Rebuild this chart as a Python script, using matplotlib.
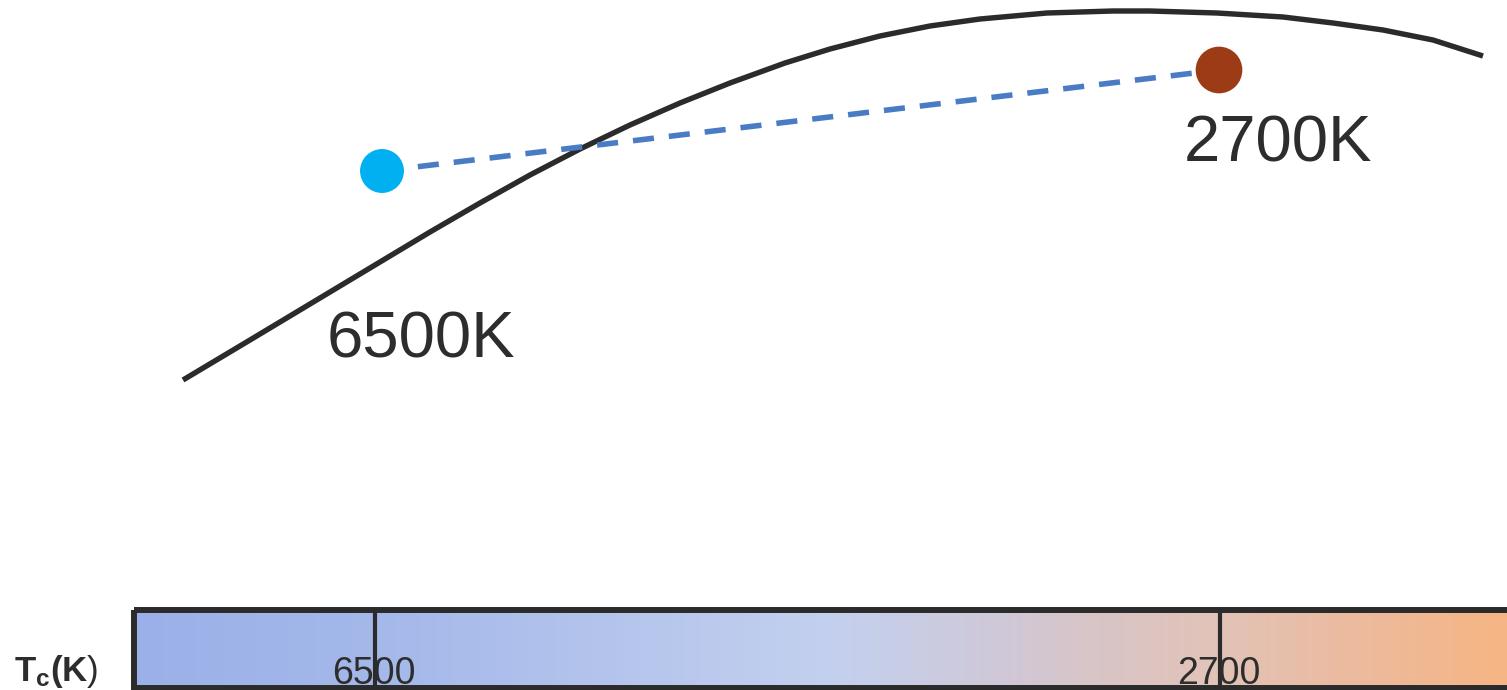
import numpy as np
import matplotlib
matplotlib.use('Agg')
import matplotlib.pyplot as plt
from matplotlib.colors import LinearSegmentedColormap
from matplotlib.patches import Rectangle

plt.rcParams['font.family'] = ['Liberation Sans', 'DejaVu Sans']
plt.rcParams['mathtext.fontset'] = 'custom'
plt.rcParams['mathtext.rm'] = 'Liberation Sans'
plt.rcParams['mathtext.bf'] = 'Liberation Sans:bold'

# ---- data (diagram coordinates in pixels) ----
locus_x = [183, 250, 300, 380, 430, 480, 530, 580, 630, 680, 730, 785, 830,
           880, 930, 980, 1047, 1113, 1150, 1217, 1283, 1333, 1383, 1433, 1483]
locus_y = [380, 340, 310, 262, 232, 203, 175, 149, 125, 103, 83, 63, 49,
           36, 26, 19, 13, 11, 11, 13, 17, 23, 30, 40, 56]

cct_labels = ['6500', '2700']
cct_point_x = [382, 1219]
cct_point_y = [171, 70]
cct_colors = ['#00b0f0', '#9e3b17']
cct_sizes = [1000, 1130]
cct_text_pos = [(327, 357), (1184, 161)]
cct_bar_x = [375, 1220]

# gradient of the Tc scale
grad_pos = [131, 375, 700, 830, 950, 1000, 1100, 1220, 1350, 1507]
grad_col = ['#9bb0e8', '#a4b8ea', '#bac9ed', '#c3d0ef', '#cccbdf',
            '#d0c8d8', '#d9c5c6', '#e2c3b8', '#ecbb9f', '#f6b584']

W, H = 1507, 690
fig = plt.figure(figsize=(W / 100, H / 100), dpi=100)
ax = fig.add_axes([0, 0, 1, 1])
ax.set_xlim(0, W)
ax.set_ylim(H, 0)
ax.axis('off')

ink = '#2b2b2b'

# locus curve
ax.plot(locus_x, locus_y, color=ink, lw=3.9, solid_capstyle='butt',
        solid_joinstyle='round', zorder=2)

# dashed connection between the two points
ax.plot(cct_point_x, cct_point_y, color='#4a7bc5', lw=4.0,
        dashes=(3.8, 2.7), zorder=3)
ax.scatter(cct_point_x, cct_point_y, s=cct_sizes, c=cct_colors,
           edgecolors='none', zorder=4)

for lab, (tx, ty) in zip(cct_labels, cct_text_pos):
    ax.text(tx, ty, lab + 'K', fontsize=47, color='#2d2d2d',
            ha='left', va='baseline')

# Tc scale bar with gradient
x0, x1, y0, y1 = 134, 1512, 610, 688
stops = [(p - grad_pos[0]) / (grad_pos[-1] - grad_pos[0]) for p in grad_pos]
cmap = LinearSegmentedColormap.from_list('tc', list(zip(stops, grad_col)))
grad = np.linspace(0, 1, 512).reshape(1, -1)
ax.imshow(grad, cmap=cmap, aspect='auto',
          extent=[grad_pos[0], grad_pos[-1], y1, y0], zorder=1)
ax.add_patch(Rectangle((x0, y0), x1 - x0, y1 - y0, fill=False,
                       edgecolor=ink, lw=4.3, zorder=5))

for lab, bx in zip(cct_labels, cct_bar_x):
    ax.plot([bx, bx], [y0, y1], color=ink, lw=3.0, zorder=5)
    ax.text(bx - 1, 684, lab, fontsize=27, color='#2d2d2d',
            ha='center', va='baseline', zorder=6)

ax.text(14, 681, r'$\mathbf{T_c(K}\mathrm{)}$', fontsize=25,
        color='#2d2d2d', ha='left', va='baseline')

ax.set_xlim(0, W)
ax.set_ylim(H, 0)
fig.savefig('out.png', dpi=100)
